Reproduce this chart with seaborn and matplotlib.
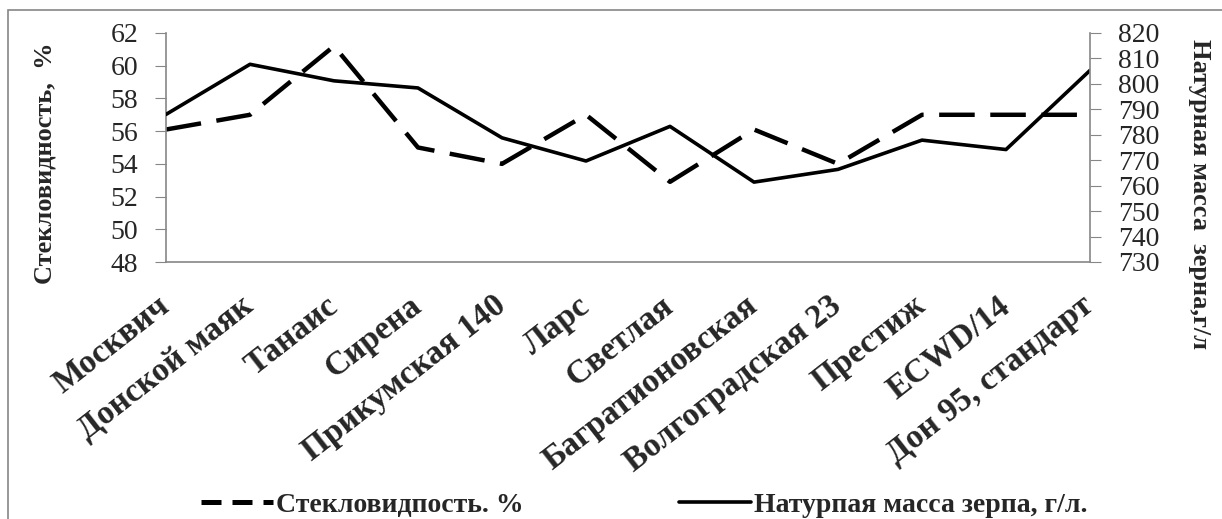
import matplotlib
matplotlib.use("Agg")
import matplotlib.pyplot as plt
import seaborn as sns
import pandas as pd
from matplotlib.patches import Rectangle
from matplotlib.lines import Line2D

# данные
sorta = ['Москвич', 'Донской маяк', 'Танаис', 'Сирена', 'Прикумская 140', 'Ларс',
         'Светлая', 'Багратионовская', 'Волгоградская 23', 'Престиж', 'ECWD/14',
         'Дон 95, стандарт']
steklo = [56.1, 57.0, 61.2, 55.0, 54.0, 57.0, 52.9, 56.1, 54.0, 57.0, 57.0, 57.0]
natura = [788, 807.7, 801.2, 798.4, 778.8, 769.7, 783.3, 761.4, 766.4, 777.9, 774.2, 805.3]

left_ticks = [48, 50, 52, 54, 56, 58, 60, 62]
right_ticks = [730, 740, 750, 760, 770, 780, 790, 800, 810, 820]

df = pd.DataFrame({'x': range(len(sorta)), 'steklo': steklo, 'natura': natura})

sns.set_style("white")
plt.rcParams['font.family'] = ['Liberation Serif', 'DejaVu Serif']

fig = plt.figure(figsize=(12.22, 5.19), dpi=100)
ax = fig.add_axes([166/1222, 1 - 262/519, (1090-166)/1222, (262-33)/519])
ax2 = ax.twinx()

sns.lineplot(data=df, x='x', y='steklo', ax=ax, color='black', lw=3.2)
ax.lines[0].set_dashes((8, 3.5))
sns.lineplot(data=df, x='x', y='natura', ax=ax2, color='black', lw=2.6)

grey = '#868686'
ax.set_xlim(0, len(sorta) - 1)
ax.set_ylim(48, 62)
ax2.set_ylim(730, 820)
ax.set_yticks(left_ticks)
ax2.set_yticks(right_ticks)
ax.set_xticks([i + 0.5 for i in range(len(sorta) - 1)])
ax.set_xticklabels([])
ax.set_xticks(range(len(sorta)), minor=True)
ax.set_xticklabels(sorta, minor=True, rotation=38, ha='right', va='center',
                   rotation_mode='anchor', fontsize=24, fontweight='bold')
ax.tick_params(axis='x', which='minor', length=0, pad=29)
ax.tick_params(axis='x', which='major', length=7, color=grey, direction='out')
ax.tick_params(axis='y', length=8, color=grey, labelsize=20, pad=12, direction='out')
ax2.tick_params(axis='y', length=8, color=grey, labelsize=20, pad=12, direction='out')
for a in (ax, ax2):
    a.set_xlabel('')
    a.set_ylabel('')
    a.spines['top'].set_visible(False)
    for s in ('left', 'right', 'bottom'):
        a.spines[s].set_color(grey)
        a.spines[s].set_linewidth(1.2)
ax2.spines['left'].set_visible(False)
ax.spines['right'].set_visible(False)
ax2.spines['bottom'].set_visible(False)

fig.text(45/1222, 1 - 163/519, 'Стекловидность,  %', rotation=90, ha='center',
         va='center', fontsize=19, fontweight='bold')
fig.text(1199/1222, 1 - 194/519, 'Натурная масса  зерна,г/л', rotation=-90,
         ha='center', va='center', fontsize=19, fontweight='bold')

h1 = Line2D([], [], color='black', lw=3.6, dashes=(4, 2.2))
h2 = Line2D([], [], color='black', lw=2.6)
fig.legend([h1, h2], ['Стекловидпость. %', 'Натурпая масса зерпа, г/л.'],
           loc='center', bbox_to_anchor=(0.527, 1 - 505/519), ncol=2, frameon=False,
           prop={'weight': 'bold', 'size': 20}, handlelength=2.6, handletextpad=0.1,
           columnspacing=5.6)

fig.patches.append(Rectangle((8/1222, -0.1), 1.2, 1 - 10/519 + 0.1,
                             transform=fig.transFigure, fill=False,
                             edgecolor=grey, lw=1.2))

fig.savefig('out.png', dpi=100)
